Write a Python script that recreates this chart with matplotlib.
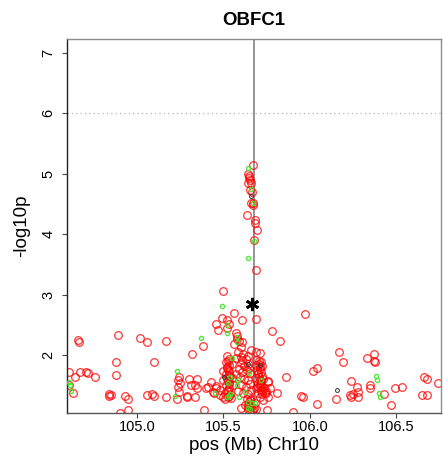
import matplotlib
matplotlib.use('Agg')
from matplotlib import pyplot as plt

plt.rcParams['font.family'] = ['Liberation Sans', 'DejaVu Sans']

gene = 'OBFC1'
chrom = 'Chr10'
lead_pos = 105.676
lead_logp = 2.85
threshold = 6

# red: main SNPs (pos in Mb, -log10 p)
red_pos = [
    104.66, 104.665, 104.89, 105.02, 105.06, 105.17, 104.88, 105.10, 104.61, 104.67,
    104.705, 104.715, 104.64, 104.76, 104.88, 104.61, 104.63, 104.84, 104.85, 104.84,
    104.93, 104.95, 104.95, 104.90, 105.06, 105.09, 105.10, 105.17, 105.23, 105.29,
    105.32, 105.38, 105.235, 105.245, 105.25, 105.24, 105.245, 105.30, 105.31, 105.335,
    105.345, 105.29, 105.335, 105.41, 105.445, 105.40, 105.35, 105.43, 105.46, 105.48,
    105.44, 105.46, 105.48, 105.50, 105.51, 105.39, 105.50, 105.56, 105.49, 105.52,
    105.53, 105.46, 105.47, 105.52, 105.605, 105.57, 105.58, 105.59, 105.60, 105.56,
    105.576, 105.61, 105.66, 105.69, 105.71, 105.69, 105.78, 105.83, 105.97, 106.17,
    106.19, 106.33, 106.37, 106.37, 106.375, 106.02, 106.04, 105.86, 105.76, 106.24,
    106.27, 106.28, 106.25, 106.23, 106.24, 106.28, 106.35, 106.35, 106.43, 106.49,
    106.53, 106.47, 106.66, 106.675, 106.74, 106.65, 106.68, 106.15, 106.04, 105.95,
    105.96, 105.90, 105.77, 105.81, 105.75, 105.60, 105.74, 105.71, 105.73, 105.76,
    105.71, 105.73, 105.745,
    # peak column
    105.672, 105.645, 105.65, 105.655, 105.657, 105.645, 105.655, 105.663, 105.67, 105.672,
    105.634, 105.68, 105.68, 105.695, 105.678, 105.688, 105.648, 105.66,
    # dense cluster, left column
    105.52, 105.53, 105.515, 105.535, 105.52, 105.53, 105.515, 105.54, 105.52, 105.53,
    105.515, 105.535, 105.52, 105.54, 105.525, 105.51, 105.545, 105.50, 105.50, 105.55,
    105.55, 105.555, 105.525, 105.525, 105.525, 105.525, 105.53, 105.53, 105.535, 105.52,
    # dense cluster, middle
    105.585, 105.60, 105.615, 105.63, 105.645, 105.60, 105.62, 105.64, 105.59, 105.61,
    105.635, 105.655, 105.595, 105.62, 105.645, 105.60, 105.63, 105.655, 105.585, 105.615,
    105.64, 105.66, 105.57, 105.575, 105.61, 105.65,
    # dense cluster, right column
    105.69, 105.705, 105.72, 105.69, 105.71, 105.725, 105.695, 105.715, 105.70, 105.725,
    105.69, 105.71, 105.73, 105.70, 105.72, 105.69, 105.715, 105.735, 105.70, 105.725,
    105.745, 105.76, 105.705, 105.705, 105.71, 105.71, 105.70, 105.715, 105.72, 105.70,
    # bottom, at the lead SNP
    105.635, 105.65, 105.66, 105.645, 105.665, 105.675, 105.655, 105.68, 105.625, 105.69,
    105.645, 105.66, 105.67, 105.64, 105.655,
]
red_logp = [
    2.25, 2.21, 2.34, 2.29, 2.21, 2.23, 1.88, 1.88, 1.72, 1.72,
    1.72, 1.71, 1.64, 1.64, 1.67, 1.50, 1.38, 1.36, 1.34, 1.33,
    1.32, 1.27, 1.09, 1.04, 1.34, 1.36, 1.33, 1.30, 1.28, 1.33,
    2.01, 2.15, 1.59, 1.63, 1.53, 1.48, 1.39, 1.61, 1.50, 1.50,
    1.45, 1.31, 1.31, 1.48, 1.37, 1.45, 1.60, 1.56, 1.49, 1.42,
    1.39, 1.45, 1.34, 1.31, 1.37, 1.09, 3.06, 2.69, 2.61, 2.58,
    2.52, 2.51, 2.41, 2.44, 2.58, 2.36, 2.31, 2.24, 2.14, 2.19,
    2.27, 2.22, 2.08, 2.05, 2.03, 2.59, 2.40, 2.24, 2.68, 2.05,
    1.88, 1.96, 2.02, 1.91, 1.89, 1.74, 1.78, 1.64, 1.57, 1.57,
    1.48, 1.39, 1.35, 1.34, 1.31, 1.30, 1.50, 1.45, 1.36, 1.45,
    1.47, 1.17, 1.64, 1.60, 1.53, 1.34, 1.34, 1.27, 1.19, 1.33,
    1.31, 1.06, 1.45, 1.37, 1.09, 1.13, 1.37, 1.48, 1.42, 1.30,
    1.31, 1.26, 1.37,
    5.14, 4.99, 4.96, 4.89, 4.85, 4.84, 4.73, 4.70, 4.51, 4.48,
    4.31, 4.23, 4.19, 4.07, 3.90, 3.40, 4.93, 4.52,
    1.98, 1.93, 1.88, 1.84, 1.79, 1.74, 1.69, 1.65, 1.60, 1.55,
    1.50, 1.45, 1.40, 1.36, 1.31, 1.27, 1.29, 1.73, 1.58, 1.86,
    1.62, 1.50, 1.91, 1.76, 1.57, 1.43, 1.67, 1.33, 1.52, 1.81,
    2.05, 1.97, 2.02, 1.93, 1.99, 1.87, 1.82, 1.85, 1.77, 1.72,
    1.76, 1.70, 1.63, 1.60, 1.58, 1.50, 1.47, 1.52, 1.40, 1.38,
    1.35, 1.42, 1.95, 1.68, 1.92, 1.79,
    1.92, 1.90, 1.88, 1.84, 1.80, 1.82, 1.76, 1.72, 1.68, 1.66,
    1.62, 1.58, 1.60, 1.54, 1.50, 1.46, 1.43, 1.45, 1.38, 1.35,
    1.40, 1.55, 1.86, 1.64, 1.77, 1.52, 1.71, 1.40, 1.57, 1.48,
    1.28, 1.22, 1.16, 1.11, 1.07, 1.12, 1.25, 1.20, 1.18, 1.10,
    1.14, 1.27, 1.09, 1.19, 1.06,
]

# green: second group
green_pos = [
    104.61, 104.615, 104.62, 105.23, 105.22, 105.49, 105.37, 105.52, 105.52, 105.58,
    105.58, 105.55, 105.645, 105.66, 105.67, 105.678, 105.64, 105.65, 105.525, 105.585,
    105.58, 105.72, 105.45, 105.54, 105.53, 105.625, 105.645, 105.665, 105.64, 105.655,
    105.68, 105.52, 105.59, 105.54, 106.38, 106.39, 106.40, 106.405,
]
green_logp = [
    1.55, 1.50, 1.40, 1.74, 1.32, 2.81, 2.29, 2.50, 2.37, 2.30,
    2.22, 1.95, 5.10, 4.74, 4.51, 3.88, 3.60, 1.70, 1.53, 1.59,
    1.50, 1.59, 1.38, 1.36, 1.32, 1.39, 1.23, 1.21, 1.12, 1.10,
    1.21, 1.30, 1.31, 1.63, 1.65, 1.59, 1.38, 1.31,
]

# black: other
black_pos = [105.66, 105.64, 105.71, 105.505, 106.155]
black_logp = [4.64, 1.86, 1.83, 1.64, 1.43]

fig = plt.figure(figsize=(4.43, 4.59), dpi=100)
ax = fig.add_axes([0.151, 0.100, 0.844, 0.815])

ax.axhline(threshold, color='#b5b5b5', lw=0.9, ls=(0, (1, 2.5)), zorder=1)
ax.axvline(lead_pos, color='#8c8c8c', lw=1.3, zorder=1)

ax.plot(red_pos, red_logp, 'o', mfc='none', mec=(1, 0, 0, 0.75), ms=5.5, mew=0.95, zorder=2)
ax.plot(green_pos, green_logp, 'o', mfc='none', mec=(0.25, 0.9, 0.15, 0.9), ms=3.0, mew=1.0, zorder=3)
ax.plot(black_pos, black_logp, 'o', mfc='none', mec='#333333', ms=2.8, mew=0.7, zorder=4)

# lead SNP marker
ax.plot([lead_pos - 0.012], [lead_logp], marker=(6, 2, 0), color='black', ms=9.5, mew=2.0, zorder=5)

ax.set_xlim(104.595, 106.757)
ax.set_ylim(1.04, 7.23)
ax.set_xticks([105.0, 105.5, 106.0, 106.5])
ax.set_xticklabels(['105.0', '105.5', '106.0', '106.5'])
ax.set_yticks([2, 3, 4, 5, 6, 7])
ax.tick_params(axis='x', length=3.6, width=0.8, pad=1.5, labelsize=10.5, color='#444444')
ax.tick_params(axis='y', length=3.6, width=0.8, pad=4.5, labelsize=10.5, color='#444444')
for lab in ax.get_yticklabels():
    lab.set_rotation(90)
    lab.set_va('center')

ax.spines['left'].set_color('#222222')
ax.spines['bottom'].set_color('#555555')
ax.spines['top'].set_color('#8c8c8c')
ax.spines['right'].set_color('#8c8c8c')
for s in ax.spines.values():
    s.set_linewidth(1.0)

ax.set_title(gene, fontsize=13.4, fontweight='bold', pad=10)
ax.set_xlabel('pos (Mb) ' + chrom, fontsize=13.5, labelpad=2)
ax.set_ylabel('-log10p', fontsize=13.5, labelpad=8)

plt.savefig('out.png', dpi=100)
